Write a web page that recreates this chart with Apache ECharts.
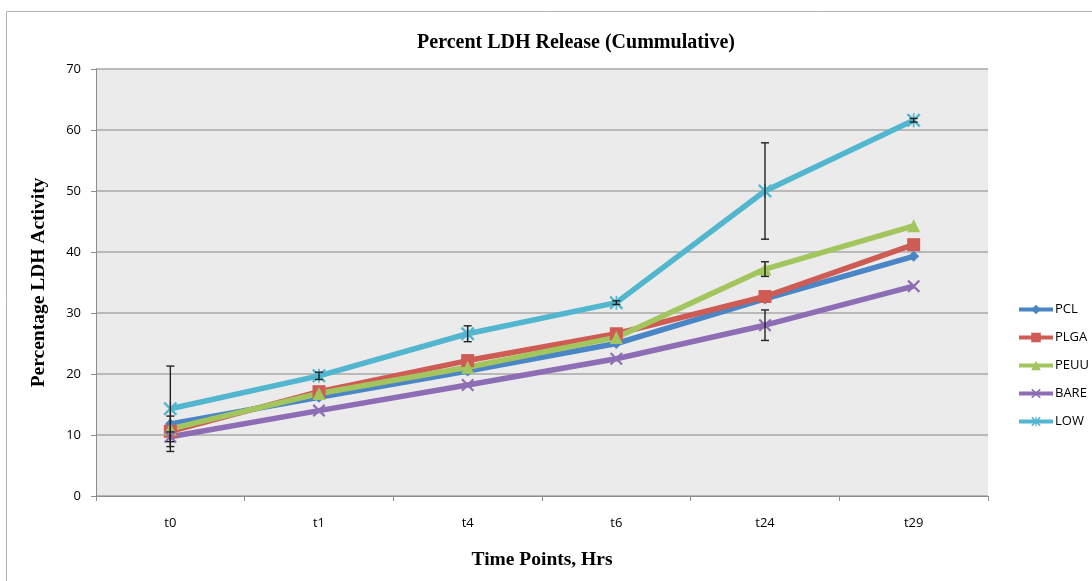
<!DOCTYPE html>
<html>
<head>
<meta charset="utf-8">
<script src="https://cdn.jsdelivr.net/npm/echarts@6/dist/echarts.min.js"></script>
<style>
  html, body { margin: 0; padding: 0; background: #ffffff; }
  #chart { width: 1092px; height: 581px; }
</style>
</head>
<body>
<div id="chart"></div>
<script>
// Time points (hours)
const categories = ['t0', 't1', 't4', 't6', 't24', 't29'];

// Cumulative LDH release, % activity
const pcl  = [11.8, 16.2, 20.5, 25.0, 32.3, 39.3];
const plga = [10.6, 17.1, 22.2, 26.6, 32.7, 41.2];
const peuu = [11.0, 16.8, 21.1, 26.0, 37.2, 44.3];
const bare = [9.7, 14.0, 18.2, 22.5, 28.0, 34.4];
const low  = [14.3, 19.7, 26.6, 31.7, 50.0, 61.6];

// Standard deviations (error bar half-lengths)
const pclErr  = [0.0, 0.0, 0.0, 0.0, 0.0, 0.0];
const plgaErr = [2.5, 0.0, 0.0, 0.0, 0.0, 0.0];
const peuuErr = [0.0, 0.0, 0.0, 0.0, 1.2, 0.0];
const bareErr = [0.8, 0.0, 0.0, 0.0, 2.5, 0.0];
const lowErr  = [7.0, 0.6, 1.3, 0.3, 7.9, 0.3];

const yTicks = [0, 10, 20, 30, 40, 50, 60, 70];

const colors = {
  PCL: '#4A86C5',
  PLGA: '#CF5B55',
  PEUU: '#A3C55E',
  BARE: '#8D6DB3',
  LOW: '#53B6CF'
};

// Marker shapes: an "x" cross and an asterisk built as filled outlines
const crossPath = 'path://M0,1.2 L1.2,0 L5,3.8 L8.8,0 L10,1.2 L6.2,5 L10,8.8 L8.8,10 L5,6.2 L1.2,10 L0,8.8 L3.8,5 Z';
const starPath = 'path://M0,1.2 L1.2,0 L5,3.8 L8.8,0 L10,1.2 L6.2,5 L10,8.8 L8.8,10 L5,6.2 L1.2,10 L0,8.8 L3.8,5 Z M4.4,0 L5.6,0 L5.6,10 L4.4,10 Z';

function lineSeries(name, data, symbol, size) {
  return {
    name: name,
    type: 'line',
    data: data,
    symbol: symbol,
    symbolSize: size,
    showAllSymbol: true,
    lineStyle: { width: 5.5, color: colors[name] },
    itemStyle: { color: colors[name] },
    emphasis: { disabled: true },
    z: 3
  };
}

function errorSeries(values, errs) {
  const rows = [];
  values.forEach(function (v, i) {
    if (errs[i] > 0) rows.push([i, v - errs[i], v + errs[i]]);
  });
  return {
    type: 'custom',
    data: rows,
    z: 5,
    silent: true,
    renderItem: function (params, api) {
      const lo = api.coord([api.value(0), api.value(1)]);
      const hi = api.coord([api.value(0), api.value(2)]);
      const cap = 4;
      const style = { stroke: '#222222', lineWidth: 1.4 };
      return {
        type: 'group',
        children: [
          { type: 'line', shape: { x1: hi[0], y1: hi[1], x2: lo[0], y2: lo[1] }, style: style },
          { type: 'line', shape: { x1: hi[0] - cap, y1: hi[1], x2: hi[0] + cap, y2: hi[1] }, style: style },
          { type: 'line', shape: { x1: lo[0] - cap, y1: lo[1], x2: lo[0] + cap, y2: lo[1] }, style: style }
        ]
      };
    }
  };
}

const chart = echarts.init(document.getElementById('chart'), null, { renderer: 'canvas' });

const serifBold = { fontFamily: '"Liberation Serif", "DejaVu Serif", serif', fontWeight: 'bold', color: '#000000' };
const sansLabel = { fontFamily: '"Open Sans", "Liberation Sans", sans-serif', fontSize: 13, color: '#000000' };

chart.setOption({
  animation: false,
  backgroundColor: '#ffffff',
  color: [colors.PCL, colors.PLGA, colors.PEUU, colors.BARE, colors.LOW],
  title: {
    text: 'Percent LDH Release (Cummulative)',
    left: 571,
    textAlign: 'center',
    top: 28,
    textStyle: Object.assign({ fontSize: 20 }, serifBold)
  },
  graphic: [
    {
      type: 'rect',
      shape: { x: 6.5, y: 11.5, width: 1200, height: 700 },
      style: { fill: null, stroke: '#b3b3b3', lineWidth: 1 },
      z: -10
    }
  ],
  legend: {
    orient: 'vertical',
    left: 1012,
    top: 298,
    itemWidth: 34,
    itemHeight: 12,
    itemGap: 15,
    lineStyle: { width: 4 },
    textStyle: Object.assign({ padding: [0, 0, 0, -3] }, sansLabel),
    data: ['PCL', 'PLGA', 'PEUU', 'BARE', 'LOW']
  },
  grid: {
    left: 96,
    top: 69,
    width: 892,
    height: 427,
    show: true,
    backgroundColor: '#EBEBEB',
    borderWidth: 0
  },
  xAxis: {
    type: 'category',
    data: categories,
    boundaryGap: true,
    name: 'Time Points, Hrs',
    nameLocation: 'middle',
    nameGap: 54,
    nameTextStyle: Object.assign({ fontSize: 19.5 }, serifBold),
    axisLine: { lineStyle: { color: '#8c8c8c', width: 1 } },
    axisTick: { show: true, length: 5, lineStyle: { color: '#8c8c8c' } },
    axisLabel: Object.assign({ margin: 21 }, sansLabel),
    splitLine: { show: false }
  },
  yAxis: {
    type: 'value',
    min: yTicks[0],
    max: yTicks[yTicks.length - 1],
    interval: 10,
    name: 'Percentage LDH Activity',
    nameLocation: 'middle',
    nameGap: 47,
    nameTextStyle: Object.assign({ fontSize: 19.5 }, serifBold),
    axisLine: { show: true, lineStyle: { color: '#8c8c8c', width: 1 } },
    axisTick: { show: true, length: 5, lineStyle: { color: '#8c8c8c' } },
    axisLabel: Object.assign({ margin: 15 }, sansLabel),
    splitLine: { show: true, lineStyle: { color: '#a8a8a8', width: 1.5 } }
  },
  series: [
    lineSeries('PCL', pcl, 'diamond', 11),
    lineSeries('PLGA', plga, 'rect', 13),
    lineSeries('PEUU', peuu, 'triangle', 13),
    lineSeries('BARE', bare, crossPath, 13),
    lineSeries('LOW', low, starPath, 14),
    errorSeries(pcl, pclErr),
    errorSeries(plga, plgaErr),
    errorSeries(peuu, peuuErr),
    errorSeries(bare, bareErr),
    errorSeries(low, lowErr)
  ]
});
</script>
</body>
</html>
